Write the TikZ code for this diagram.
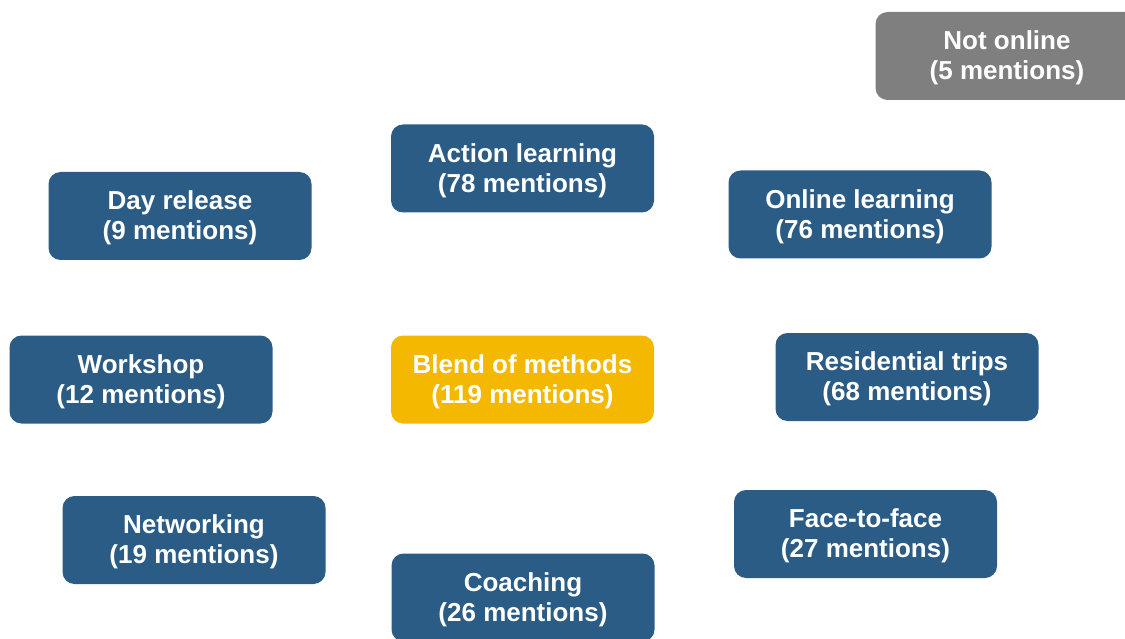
\documentclass[tikz,border=0pt]{standalone}
\usepackage{fontspec}
\setmainfont{Liberation Sans}
\definecolor{boxblue}{HTML}{2B5C85}
\definecolor{boxgray}{HTML}{7F7F7F}
\definecolor{boxyellow}{HTML}{F4B800}
\newcommand{\topstrut}{\rule{0pt}{23pt}}
\tikzset{
  mbox/.style={rectangle, rounded corners=12pt, fill=boxblue, text=white,
    minimum width=263pt, minimum height=88pt, inner sep=0pt, align=center,
    font=\fontsize{26pt}{30pt}\selectfont\bfseries},
  graybox/.style={mbox, fill=boxgray},
  yellowbox/.style={mbox, fill=boxyellow}
}
\begin{document}
\begin{tikzpicture}[x=1pt,y=1pt]
\useasboundingbox (0,0) rectangle (1125,-639);
\clip (0,0) rectangle (1125,-639);
\node[graybox] (notonline) at (1007,-56) {\topstrut Not online\\(5 mentions)};
\node[mbox] (action) at (522.5,-168.5) {\topstrut Action learning\\(78 mentions)};
\node[mbox] (day) at (180,-216) {\topstrut Day release\\(9 mentions)};
\node[mbox] (online) at (860,-214.5) {\topstrut Online learning\\(76 mentions)};
\node[mbox] (workshop) at (141,-379.5) {\topstrut Workshop\\(12 mentions)};
\node[yellowbox] (blend) at (522.5,-379.5) {\topstrut Blend of methods\\(119 mentions)};
\node[mbox] (residential) at (907,-377) {\topstrut Residential trips\\(68 mentions)};
\node[mbox] (networking) at (194,-540) {\topstrut Networking\\(19 mentions)};
\node[mbox] (face) at (865.5,-534) {\topstrut Face-to-face\\(27 mentions)};
\node[mbox] (coaching) at (523,-597.5) {\topstrut Coaching\\(26 mentions)};
\end{tikzpicture}
\end{document}
